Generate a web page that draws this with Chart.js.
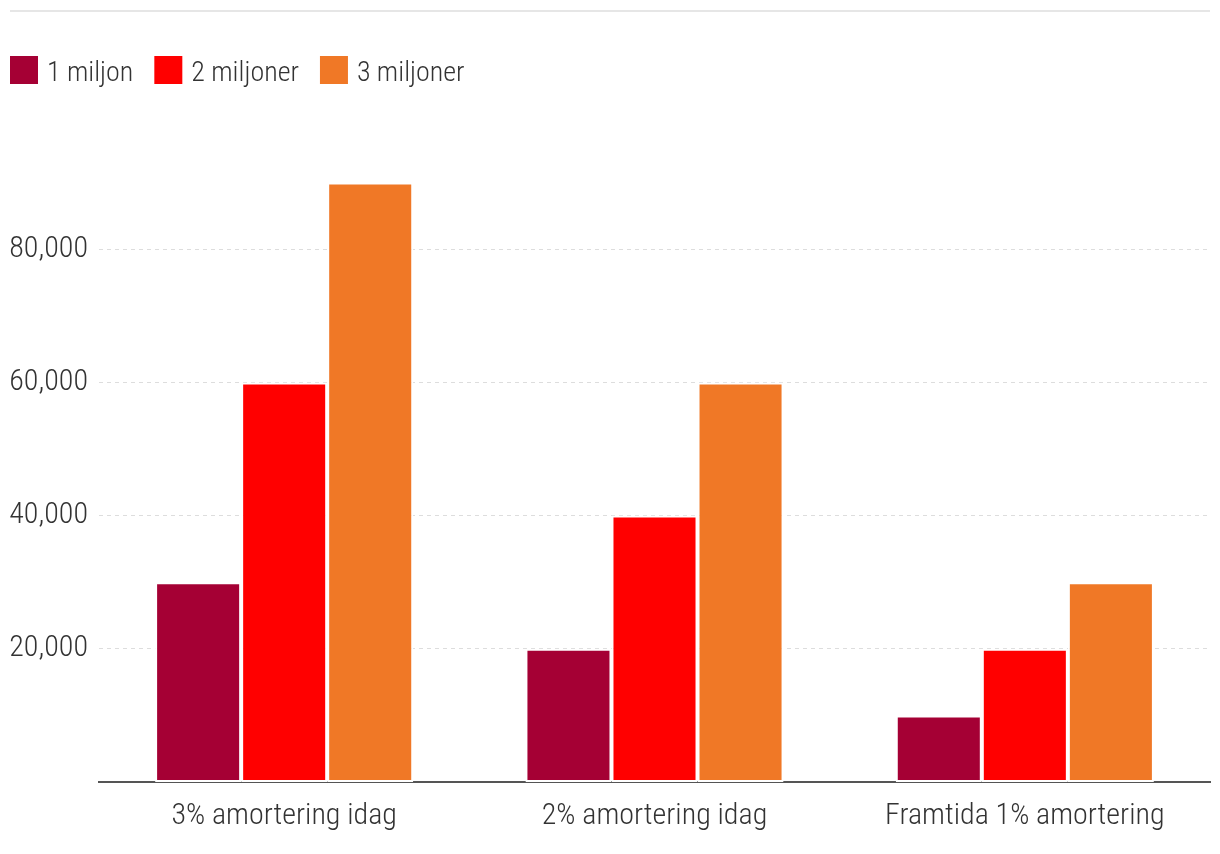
<!DOCTYPE html>
<html>
<head>
<meta charset="utf-8">
<script src="https://cdn.jsdelivr.net/npm/chart.js@4"></script>
<style>
  html, body { margin: 0; background: #fff; }
  #wrap { width: 1220px; height: 854px; position: relative; }
</style>
</head>
<body>
<div id="wrap"><canvas id="c"></canvas></div>
<script>
// condensed light Roboto
const FAMILY = 'Roboto, sans-serif';
const WEIGHT = '300 condensed';

// Data
const categories = ['3% amortering idag', '2% amortering idag', 'Framtida 1% amortering'];
const seriesNames = ['1 miljon', '2 miljoner', '3 miljoner'];
const miljon1 = [30000, 20000, 10000];
const miljon2 = [60000, 40000, 20000];
const miljon3 = [90000, 60000, 30000];
const colors = ['#A50034', '#FF0000', '#F07826'];
const yTicks = [20000, 40000, 60000, 80000];

// Legend + top rule
const topLegend = {
  id: 'topLegend',
  afterDraw(chart) {
    const ctx = chart.ctx;
    ctx.save();
    ctx.fillStyle = '#e6e6e6';
    ctx.fillRect(10, 10, chart.width - 20, 2);
    ctx.font = WEIGHT + ' 28px ' + FAMILY;
    ctx.textBaseline = 'alphabetic';
    let x = 10;
    chart.data.datasets.forEach(ds => {
      ctx.fillStyle = ds.backgroundColor;
      ctx.fillRect(x, 56, 28, 28);
      x += 28 + 9;
      ctx.fillStyle = '#333';
      ctx.fillText(ds.label, x, 81);
      x += ctx.measureText(ds.label).width + 21;
    });
    ctx.restore();
  }
};

const seriesData = [miljon1, miljon2, miljon3];

new Chart(document.getElementById('c'), {
  type: 'bar',
  data: {
    labels: categories,
    datasets: seriesNames.map((n, i) => ({
      label: n, data: seriesData[i], backgroundColor: colors[i],
      borderColor: '#fff', borderWidth: 2, borderSkipped: false
    }))
  },
  options: {
    responsive: true, maintainAspectRatio: false, animation: false,
    layout: { padding: { top: 116, left: 10, right: 10, bottom: 0 } },
    datasets: { bar: { categoryPercentage: 0.697, barPercentage: 1 } },
    plugins: { legend: { display: false }, tooltip: { enabled: false } },
    scales: {
      x: {
        grid: { display: false },
        border: { color: '#555', width: 2 },
        ticks: { color: '#333', font: { family: FAMILY, weight: WEIGHT, size: 30 }, padding: 8 },
        afterFit(s) { s.height = 72; }
      },
      y: {
        min: 0, max: 100000,
        afterBuildTicks(s) { s.ticks = yTicks.map(v => ({ value: v })); },
        afterFit(s) { s.width = 89; },
        border: { display: false, dash: [4, 4] },
        grid: { color: '#ddd', drawTicks: false },
        ticks: { color: '#333', font: { family: FAMILY, weight: WEIGHT, size: 30 }, padding: 11,
          callback: v => v.toLocaleString('en-US') }
      }
    }
  },
  plugins: [topLegend]
});
</script>
</body>
</html>
